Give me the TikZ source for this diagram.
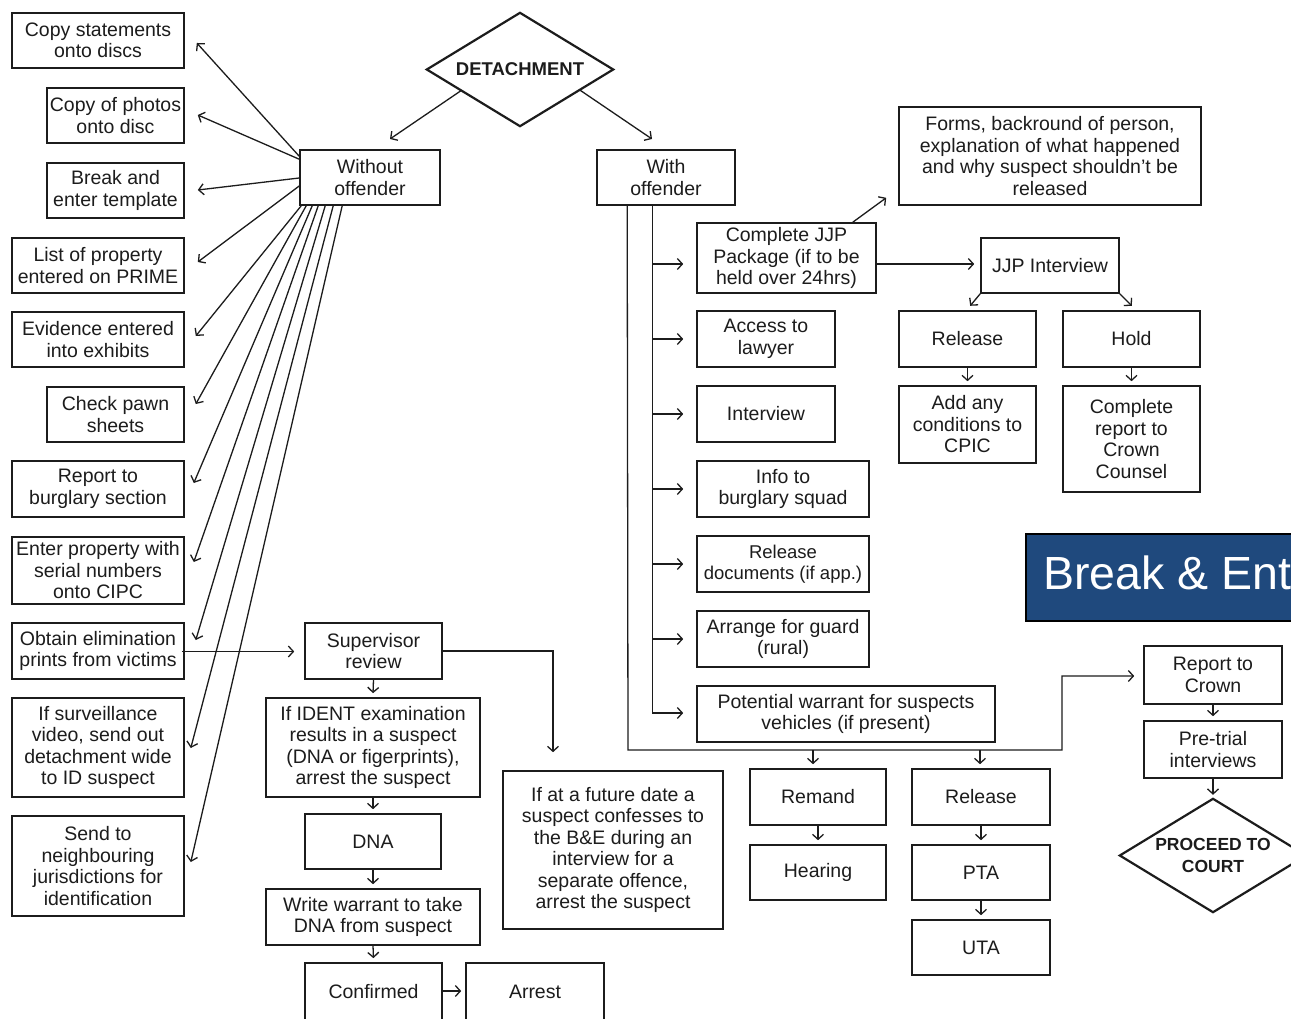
\documentclass[tikz,border=0pt]{standalone}
\usepackage{fontspec}
\setmainfont{Liberation Sans}
\usetikzlibrary{arrows.meta,calc}
\definecolor{bebg}{RGB}{31,73,125}
\definecolor{ink}{RGB}{28,28,28}
\begin{document}
\begin{tikzpicture}[x=1pt,y=-1pt,
  bx/.style={draw=ink, line width=1.6pt, align=center, inner sep=0pt, text=ink,
    font=\fontsize{19.5}{21.5}\selectfont},
  dia/.style={rectangle, inner sep=0pt, align=center, text=ink,
    minimum width=186pt, minimum height=113pt},
  diaedge/.style={draw=ink, line width=2.2pt, line join=miter},
  ln/.style={draw=ink, line width=1.3pt},
  arr/.style={draw=ink, line width=1.3pt, -{Straight Barb[length=5pt,width=11pt,line width=1.3pt]}}]
\useasboundingbox (0,0) rectangle (1291,1019);
\clip (0,0) rectangle (1291,1019);
\fill[white] (0,0) rectangle (1291,1019);

% ---------- top ----------
\node[dia, font=\bfseries\fontsize{18.5}{22}\selectfont] (det) at (520,69.5) {DETACHMENT};
\draw[diaedge] (det.north) -- (det.east) -- (det.south) -- (det.west) -- cycle;
\node[bx,minimum width=140pt,minimum height=55pt] (wo) at (370,177.5) {Without\\offender};
\node[bx,minimum width=138pt,minimum height=55pt] (wi) at (666,177.5) {With\\offender};
\coordinate (woin) at (390,139);
\coordinate (wiin) at (652,139);
\draw[arr] ($(det.west)!0.37!(det.south)$) -- (woin);
\draw[arr] ($(det.east)!0.36!(det.south)$) -- (wiin);

% ---------- left column ----------
\node[bx,minimum width=172pt,minimum height=55pt] (c1) at (98,40.5) {Copy statements\\onto discs};
\node[bx,minimum width=137pt,minimum height=55pt] (c2) at (115.5,115.5) {Copy of photos\\onto disc};
\node[bx,minimum width=137pt,minimum height=55pt] (c3) at (115.5,190.5) {Break and\\enter template};
\node[bx,minimum width=172pt,minimum height=55pt] (c4) at (98,265.5) {List of property\\entered on PRIME};
\node[bx,minimum width=172pt,minimum height=55pt] (c5) at (98,339.5) {Evidence entered\\into exhibits};
\node[bx,minimum width=137pt,minimum height=55pt] (c6) at (115.5,414.5) {Check pawn\\sheets};
\node[bx,minimum width=172pt,minimum height=56pt] (c7) at (98,489) {Report to\\burglary section};
\node[bx,minimum width=172pt,minimum height=67pt] (c8) at (98,570.5) {Enter property with\\serial numbers\\onto CIPC};
\node[bx,minimum width=172pt,minimum height=56pt] (c9) at (98,651) {Obtain elimination\\prints from victims};
\node[bx,minimum width=172pt,minimum height=99pt] (c10) at (98,747.5) {If surveillance\\video, send out\\detachment wide\\to ID suspect};
\node[bx,minimum width=172pt,minimum height=100pt] (c11) at (98,866) {Send to\\neighbouring\\jurisdictions for\\identification};

\draw[arr] ($(wo.north west)+(0,7)$) -- ($(c1.east)+(12,2.5)$);
\draw[arr] ($(wo.north west)+(0,10)$) -- ($(c2.east)+(13,-0.5)$);
\draw[arr] ($(wo.west)+(0,0.5)$) -- ($(c3.east)+(13,-0.5)$);
\draw[arr] ($(wo.west)+(0,8.5)$) -- ($(c4.east)+(13,-3.5)$);
\draw[arr] ($(wo.south west)+(2,0)$) -- ($(c5.east)+(11,-3.5)$);
\draw[arr] ($(wo.south west)+(7,0)$) -- ($(c6.east)+(11,-10.5)$);
\draw[arr] ($(wo.south west)+(13,0)$) -- ($(c7.east)+(9,-6)$);
\draw[arr] ($(wo.south west)+(19,0)$) -- ($(c8.east)+(9,-8.5)$);
\draw[arr] ($(wo.south west)+(26,0)$) -- ($(c9.east)+(11,-11)$);
\draw[arr] ($(wo.south west)+(34,0)$) -- ($(c10.east)+(6,0.5)$);
\draw[arr] ($(wo.south west)+(43,0)$) -- ($(c11.east)+(6,-4)$);

% ---------- bottom left ----------
\node[bx,minimum width=137pt,minimum height=56pt] (sup) at (373.5,651) {Supervisor\\review};
\node[bx,minimum width=214pt,minimum height=99pt] (ident) at (373,747.5) {If IDENT examination\\results in a suspect\\(DNA or figerprints),\\arrest the suspect};
\node[bx,minimum width=136pt,minimum height=55pt] (dna) at (373,841.5) {DNA};
\node[bx,minimum width=214pt,minimum height=56pt] (warr) at (373,917) {Write warrant to take\\DNA from suspect};
\node[bx,minimum width=137pt,minimum height=58pt] (conf) at (373.5,992) {Confirmed};
\node[bx,minimum width=138pt,minimum height=58pt] (arrest) at (535,992) {Arrest};
\node[bx,minimum width=220pt,minimum height=158pt] (fut) at (613,850) {If at a future date a\\suspect confesses to\\the B\&E during an\\interview for a\\separate offence,\\arrest the suspect};

\draw[arr] ($(c9.east)+(-3,0.5)$) -- ($(sup.west)+(-10,0.5)$);
\draw[arr] (sup.east) -| ($(fut.north)+(-60,-18)$);
\draw[arr] (sup.south) -- ($(ident.north)+(0,-4)$);
\draw[arr] (ident.south) -- ($(dna.north)+(0,-4)$);
\draw[arr] (dna.south) -- ($(warr.north)+(0,-4)$);
\draw[arr] (warr.south) -- ($(conf.north)+(0,-4)$);
\draw[arr] ($(conf.east)+(0,-1)$) -- ($(arrest.west)+(-4,-1)$);

% ---------- with offender column ----------
\node[bx,minimum width=179pt,minimum height=70pt] (jjp) at (786.5,258) {Complete JJP\\Package (if to be\\held over 24hrs)};
\node[bx,minimum width=138pt,minimum height=56pt] (acc) at (766,339) {Access to\\lawyer};
\node[bx,minimum width=138pt,minimum height=56pt] (intv) at (766,414) {Interview};
\node[bx,minimum width=172pt,minimum height=56pt] (info) at (783,489) {Info to\\burglary squad};
\node[bx,minimum width=172pt,minimum height=56pt,font=\fontsize{18.5}{21.5}\selectfont] (reld) at (783,564) {Release\\documents (if app.)};
\node[bx,minimum width=172pt,minimum height=56pt] (arrg) at (783,639) {Arrange for guard\\(rural)};
\node[bx,minimum width=298pt,minimum height=56pt] (pot) at (846,714) {Potential warrant for suspects\\vehicles (if present)};

\coordinate (itop) at ($(wi.south west)+(56,0)$);
\coordinate (otop) at ($(wi.south west)+(31,0)$);
\draw[arr] (itop) |- ($(pot.west)+(-13,-1)$);
\draw[arr] (itop |- jjp.east) ++(0,6) -- ($(jjp.west)+(-13,6)$);
\draw[arr] (itop |- acc.west) -- ($(acc.west)+(-13,0)$);
\draw[arr] (itop |- intv.west) -- ($(intv.west)+(-13,0)$);
\draw[arr] (itop |- info.west) -- ($(info.west)+(-13,0)$);
\draw[arr] (itop |- reld.west) -- ($(reld.west)+(-13,0)$);
\draw[arr] (itop |- arrg.west) -- ($(arrg.west)+(-13,0)$);

% ---------- JJP branch ----------
\node[bx,minimum width=302pt,minimum height=98pt] (forms) at (1050,156) {Forms, backround of person,\\explanation of what happened\\and why suspect shouldn’t be\\released};
\node[bx,minimum width=138pt,minimum height=55pt] (jint) at (1050,265.5) {JJP Interview};
\node[bx,minimum width=137pt,minimum height=56pt] (rel1) at (967.5,339) {Release};
\node[bx,minimum width=137pt,minimum height=56pt] (hold) at (1131.5,339) {Hold};
\node[bx,minimum width=137pt,minimum height=77pt] (add) at (967.5,424.5) {Add any\\conditions to\\CPIC};
\node[bx,minimum width=137pt,minimum height=106pt] (comp) at (1131.5,439) {Complete\\report to\\Crown\\Counsel};

\draw[arr] ($(jjp.north east)+(-24,0)$) -- ($(forms.south west)+(-12,-8)$);
\draw[arr] ($(jjp.east)+(0,6)$) -- ($(jint.west)+(-6,-1.5)$);
\draw[arr] (jint.south west) -- ($(jint.south west)+(-10,12)$);
\draw[arr] (jint.south east) -- ($(jint.south east)+(12,12)$);
\draw[arr] (rel1.south) -- ($(add.north)+(0,-4)$);
\draw[arr] (hold.south) -- ($(comp.north)+(0,-4)$);

% ---------- bottom right ----------
\node[bx,minimum width=136pt,minimum height=56pt] (rem) at (818,797) {Remand};
\node[bx,minimum width=136pt,minimum height=55pt] (hear) at (818,872.5) {Hearing};
\node[bx,minimum width=138pt,minimum height=56pt] (rel2) at (981,797) {Release};
\node[bx,minimum width=138pt,minimum height=55pt] (pta) at (981,872.5) {PTA};
\node[bx,minimum width=138pt,minimum height=55pt] (uta) at (981,947.5) {UTA};
\node[bx,minimum width=138pt,minimum height=58pt] (rep) at (1213,675) {Report to\\Crown};
\node[bx,minimum width=138pt,minimum height=57pt] (pre) at (1213,749.5) {Pre-trial\\interviews};
\node[dia, font=\bfseries\fontsize{17.5}{22}\selectfont] (proc) at (1213,855.5) {PROCEED TO\\COURT};
\draw[diaedge] (proc.north) -- (proc.east) -- (proc.south) -- (proc.west) -- cycle;

\coordinate (obot) at (628,750);
\coordinate (ojog) at (1062,750);
\coordinate (ojog2) at (1062,676);
\draw[arr] (otop) -- (obot) -- (ojog) -- (ojog2) -- ($(rep.west)+(-9,1)$);
\draw[arr] ($(obot -| rem.north)+(-5,0)$) -- ($(rem.north)+(-5,-4)$);
\draw[arr] ($(obot -| rel2.north)+(-1,0)$) -- ($(rel2.north)+(-1,-4)$);
\draw[arr] (rem.south) -- ($(hear.north)+(0,-4)$);
\draw[arr] (rel2.south) -- ($(pta.north)+(0,-4)$);
\draw[arr] (pta.south) -- ($(uta.north)+(0,-4)$);
\draw[arr] (rep.south) -- ($(pre.north)+(0,-4)$);
\draw[arr] (pre.south) -- ($(proc.north)+(0,-4)$);

% ---------- title banner ----------
\node[fill=bebg, draw=black, line width=1.5pt, anchor=north west, inner sep=0pt,
  minimum width=300pt, minimum height=87pt] (banner) at (1025,533) {};
\node[anchor=base west, inner sep=0pt, text=white, font=\fontsize{46.5}{54}\selectfont]
  (bannertext) at (1043,589) {Break \& Enter};
\end{tikzpicture}
\end{document}
